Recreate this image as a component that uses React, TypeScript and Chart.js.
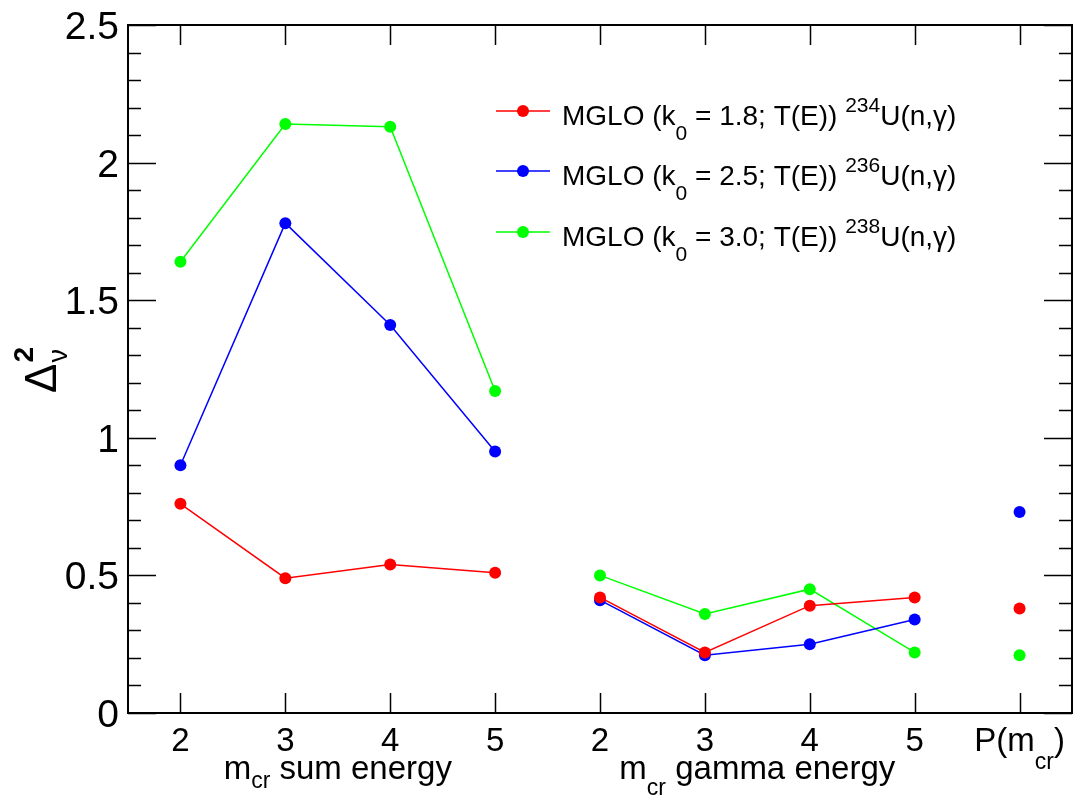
import React, { useEffect, useRef } from "react";
import { Chart, registerables } from "chart.js";

Chart.register(...registerables);

// ---- data ----
const categories = ["2", "3", "4", "5", "2", "3", "4", "5", "P(m_{cr})"];
const groupLabels = ["m_{cr} sum energy", "m_{cr} gamma energy"];
const groupSpans = [
  [0, 3],
  [4, 7],
];
const redValues = [0.76, 0.49, 0.54, 0.51, 0.42, 0.22, 0.39, 0.42, 0.38];
const blueValues = [0.9, 1.78, 1.41, 0.95, 0.41, 0.21, 0.25, 0.34, 0.73];
const greenValues = [1.64, 2.14, 2.13, 1.17, 0.5, 0.36, 0.45, 0.22, 0.21];
const seriesNames = [
  "MGLO (k_{0} = 1.8; T(E)) ^{234}U(n,γ)",
  "MGLO (k_{0} = 2.5; T(E)) ^{236}U(n,γ)",
  "MGLO (k_{0} = 3.0; T(E)) ^{238}U(n,γ)",
];
const seriesColors = ["#ff0000", "#0000ff", "#00ff00"];
const yTickValues = [0, 0.5, 1, 1.5, 2, 2.5];
const yTickLabels = ["0", "0.5", "1", "1.5", "2", "2.5"];
const yMin = 0;
const yMax = 2.5;
const yMinorStep = 0.1;
const breakAfter = [3, 7];

const FONT = '"Liberation Sans", Arial, Helvetica, sans-serif';

type Run = { t: string; m: "n" | "sub" | "sup" };
function parseRich(s: string): Run[] {
  const runs: Run[] = [];
  let i = 0;
  let buf = "";
  while (i < s.length) {
    const c = s[i];
    if ((c === "_" || c === "^") && s[i + 1] === "{") {
      if (buf) runs.push({ t: buf, m: "n" });
      buf = "";
      const end = s.indexOf("}", i);
      runs.push({ t: s.slice(i + 2, end), m: c === "_" ? "sub" : "sup" });
      i = end + 1;
    } else {
      buf += c;
      i++;
    }
  }
  if (buf) runs.push({ t: buf, m: "n" });
  return runs;
}

type RichOpt = {
  size: number;
  subSize: number;
  subDy: number;
  supSize: number;
  supDy: number;
};
function drawRich(
  ctx: CanvasRenderingContext2D,
  s: string,
  x: number,
  y: number,
  align: "left" | "center" | "right",
  o: RichOpt
) {
  const runs = parseRich(s);
  const fontFor = (r: Run) =>
    `${r.m === "n" ? o.size : r.m === "sub" ? o.subSize : o.supSize}px ${FONT}`;
  let w = 0;
  const widths = runs.map((r) => {
    ctx.font = fontFor(r);
    const mw = ctx.measureText(r.t).width;
    w += mw;
    return mw;
  });
  let cx = align === "center" ? x - w / 2 : align === "right" ? x - w : x;
  ctx.textAlign = "left";
  ctx.textBaseline = "alphabetic";
  runs.forEach((r, k) => {
    ctx.font = fontFor(r);
    const dy = r.m === "sub" ? o.subDy : r.m === "sup" ? -o.supDy : 0;
    ctx.fillText(r.t, cx, y + dy);
    cx += widths[k];
  });
}

const rootPlugin = {
  id: "rootStyle",
  beforeDatasetsDraw(chart: any) {
    const ctx: CanvasRenderingContext2D = chart.ctx;
    const a = chart.chartArea;
    const xs = chart.scales.x;
    const ys = chart.scales.y;
    ctx.save();
    ctx.strokeStyle = "#000";
    ctx.lineWidth = 2;
    ctx.strokeRect(a.left, a.top, a.right - a.left, a.bottom - a.top);
    ctx.lineWidth = 1.5;
    ctx.beginPath();
    const nMinor = Math.round((yMax - yMin) / yMinorStep);
    for (let k = 0; k <= nMinor; k++) {
      const v = yMin + k * yMinorStep;
      const major = k % 5 === 0;
      const len = major ? 28 : 13;
      const py = Math.round(ys.getPixelForValue(v)) + 0.5;
      ctx.moveTo(a.left, py);
      ctx.lineTo(a.left + len, py);
      ctx.moveTo(a.right, py);
      ctx.lineTo(a.right - len, py);
    }
    categories.forEach((_, i) => {
      const px = Math.round(xs.getPixelForValue(i)) + 0.5;
      ctx.moveTo(px, a.bottom);
      ctx.lineTo(px, a.bottom - 20);
      ctx.moveTo(px, a.top);
      ctx.lineTo(px, a.top + 20);
    });
    ctx.stroke();
    ctx.restore();
  },
  afterDraw(chart: any) {
    const ctx: CanvasRenderingContext2D = chart.ctx;
    const a = chart.chartArea;
    const xs = chart.scales.x;
    const ys = chart.scales.y;
    ctx.save();
    ctx.fillStyle = "#000";
    // y tick labels
    ctx.font = `39px ${FONT}`;
    ctx.textAlign = "right";
    ctx.textBaseline = "alphabetic";
    yTickValues.forEach((v, k) => {
      ctx.fillText(yTickLabels[k], a.left - 9, ys.getPixelForValue(v) + 14);
    });
    // x tick labels
    categories.forEach((c, i) => {
      drawRich(ctx, c, xs.getPixelForValue(i), 751, "center", {
        size: 33,
        subSize: 23,
        subDy: 18,
        supSize: 23,
        supDy: 12,
      });
    });
    // group labels
    groupLabels.forEach((g, k) => {
      const [i0, i1] = groupSpans[k];
      const cx = (xs.getPixelForValue(i0) + xs.getPixelForValue(i1)) / 2;
      drawRich(ctx, g, cx, 779, "center", {
        size: 33,
        subSize: 23,
        subDy: k === 0 ? 9 : 16,
        supSize: 23,
        supDy: 12,
      });
    });
    // y title
    ctx.save();
    ctx.translate(56, 393);
    ctx.rotate(-Math.PI / 2);
    ctx.textAlign = "left";
    ctx.textBaseline = "alphabetic";
    ctx.font = `44px ${FONT}`;
    ctx.fillText("Δ", 0, 0);
    const dw = ctx.measureText("Δ").width;
    ctx.font = `bold 28px ${FONT}`;
    ctx.fillText("2", dw + 1, -23);
    ctx.font = `27px ${FONT}`;
    ctx.fillText("ν", dw + 1, 11);
    ctx.restore();
    // legend
    const rows = [111, 171, 232];
    seriesNames.forEach((name, k) => {
      const ly = rows[k];
      ctx.strokeStyle = seriesColors[k];
      ctx.lineWidth = 1.5;
      ctx.beginPath();
      ctx.moveTo(496, ly);
      ctx.lineTo(550, ly);
      ctx.stroke();
      ctx.fillStyle = seriesColors[k];
      ctx.beginPath();
      ctx.arc(523, ly, 6, 0, Math.PI * 2);
      ctx.fill();
      ctx.fillStyle = "#000";
      drawRich(ctx, name, 562, ly + 14, "left", {
        size: 28,
        subSize: 21,
        subDy: 15,
        supSize: 21,
        supDy: 13,
      });
    });
    ctx.restore();
  },
};

export default function App() {
  const ref = useRef<HTMLCanvasElement | null>(null);
  useEffect(() => {
    document.body.style.margin = "0";
    const canvas = ref.current!;
    const mk = (vals: number[], color: string) => ({
      data: vals,
      borderColor: color,
      backgroundColor: color,
      pointBackgroundColor: color,
      pointBorderColor: color,
      pointRadius: 6,
      pointBorderWidth: 0,
      borderWidth: 1.5,
      tension: 0,
      fill: false,
      segment: {
        borderColor: (c: any) =>
          breakAfter.includes(c.p0DataIndex) ? "rgba(0,0,0,0)" : color,
      },
    });
    const chart = new Chart(canvas, {
      type: "line",
      data: {
        labels: categories,
        datasets: [
          mk(redValues, seriesColors[0]),
          mk(blueValues, seriesColors[1]),
          mk(greenValues, seriesColors[2]),
        ],
      },
      options: {
        animation: false,
        responsive: false,
        devicePixelRatio: 1,
        layout: { padding: { left: 128, top: 25, right: 2, bottom: 86 } },
        scales: {
          x: { type: "category", display: false, offset: true },
          y: { type: "linear", display: false, min: yMin, max: yMax },
        },
        plugins: { legend: { display: false }, tooltip: { enabled: false } },
      },
      plugins: [rootPlugin],
    } as any);
    return () => chart.destroy();
  }, []);
  return (
    <div style={{ position: "absolute", left: 0, top: 0, width: 1078, height: 799, background: "#fff" }}>
      <canvas ref={ref} width={1078} height={799} style={{ display: "block" }} />
    </div>
  );
}
